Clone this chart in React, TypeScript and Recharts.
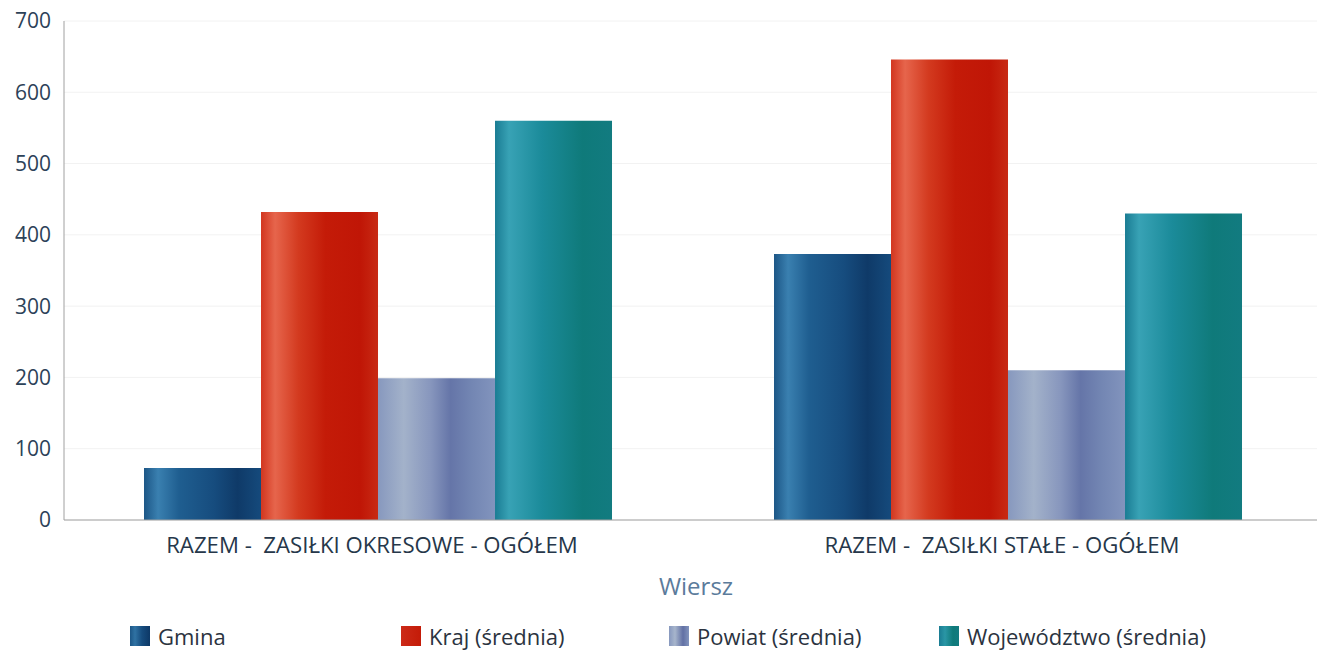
import React from 'react';
import { BarChart, Bar, XAxis, YAxis, CartesianGrid, Legend } from 'recharts';

const categories = ['RAZEM -  ZASIŁKI OKRESOWE - OGÓŁEM', 'RAZEM -  ZASIŁKI STAŁE - OGÓŁEM'];
const gmina = [73, 373];
const kraj = [432, 646];
const powiat = [199, 210];
const wojewodztwo = [560, 430];
const yTicks = [0, 100, 200, 300, 400, 500, 600, 700];

const seriesNames = ['Gmina', 'Kraj (średnia)', 'Powiat (średnia)', 'Województwo (średnia)'];

const data = categories.map((c, i) => ({
  name: c,
  gmina: gmina[i],
  kraj: kraj[i],
  powiat: powiat[i],
  woj: wojewodztwo[i],
}));

const gradients: Record<string, [number, string][]> = {
  gGmina: [[0, '#1c5686'], [0.12, '#3a80b0'], [0.3, '#1f5e90'], [0.6, '#164c7e'], [0.8, '#0f3a68'], [1, '#154a7c']],
  gKraj: [[0, '#d2361f'], [0.12, '#e6654c'], [0.32, '#d33a1f'], [0.55, '#c41b08'], [0.85, '#c01606'], [1, '#c82a14']],
  gPowiat: [[0, '#8798be'], [0.22, '#a3b2ca'], [0.45, '#8796bd'], [0.62, '#6575a8'], [0.8, '#7386b3'], [1, '#8294bd']],
  gWoj: [[0, '#1a7c93'], [0.12, '#38a2b5'], [0.4, '#1b8b9a'], [0.75, '#0f7a7a'], [1, '#127b80']],
};

const legendColors = [
  'linear-gradient(90deg, #1c5686, #2f72a3 25%, #164c7e 60%, #0d3866)',
  'linear-gradient(90deg, #cc2a18, #c41b08)',
  'linear-gradient(90deg, #8798be, #a7b5cc 30%, #6170a4 70%, #8294bd)',
  'linear-gradient(90deg, #1a7c93, #2a96a5 30%, #0f7a7a 70%, #127b80)',
];
const legendLeft = [130, 401, 669, 939];

const FONT = '"Open Sans", "Noto Sans", sans-serif';

const CustomLegend = () => (
  <div style={{ position: 'relative', width: 1317, height: 30, fontFamily: FONT }}>
    {seriesNames.map((n, i) => (
      <div key={n} style={{ position: 'absolute', left: legendLeft[i], top: 0, height: 30, display: 'flex', alignItems: 'center' }}>
        <div style={{ width: 20, height: 20, background: legendColors[i], marginRight: 8 }} />
        <span style={{ fontSize: 22, color: '#2b3340', whiteSpace: 'nowrap' }}>{n}</span>
      </div>
    ))}
  </div>
);

const CatTick = (props: any) => {
  const { x, payload } = props;
  return (
    <text x={x - 7} y={553} textAnchor="middle" fontSize={22.2} fill="#26374a" fontFamily={FONT} style={{ whiteSpace: 'pre' }}>
      {payload.value}
    </text>
  );
};

export default function App() {
  return (
    <div style={{ position: 'absolute', left: 0, top: 0, width: 1317, height: 651, overflow: 'hidden', background: '#fff' }}>
      <BarChart
        width={1330}
        height={651}
        data={data}
        margin={{ top: 21, right: 6, left: 0, bottom: 51 }}
        barCategoryGap="12.7%"
        barGap={0}
      >
        <defs>
          {Object.entries(gradients).map(([id, stops]) => (
            <linearGradient key={id} id={id} x1="0" y1="0" x2="1" y2="0">
              {stops.map(([o, c], k) => (
                <stop key={k} offset={o} stopColor={c} />
              ))}
            </linearGradient>
          ))}
        </defs>
        <CartesianGrid vertical={false} stroke="#f2f2f2" />
        <XAxis
          dataKey="name"
          stroke="#a0a0a0"
          tickLine={false}
          tick={<CatTick />}
          height={80}
          interval={0}
          label={{ value: 'Wiersz', position: 'insideTop', offset: 58, fill: '#5b7b9b', fontSize: 24, fontFamily: FONT, dx: 2 }}
        />
        <YAxis
          domain={[0, 700]}
          ticks={yTicks}
          width={64}
          stroke="#a0a0a0"
          tickLine={false}
          tickSize={0}
          tickMargin={13}
          tick={{ fontSize: 21, fill: '#2c4258', fontFamily: FONT }}
        />
        <Legend
          layout="horizontal"
          verticalAlign="middle"
          align="center"
          content={<CustomLegend />}
          wrapperStyle={{ top: 621, left: 0, width: 1317 }}
        />
        <Bar dataKey="gmina" name={seriesNames[0]} fill="url(#gGmina)" isAnimationActive={false} />
        <Bar dataKey="kraj" name={seriesNames[1]} fill="url(#gKraj)" isAnimationActive={false} />
        <Bar dataKey="powiat" name={seriesNames[2]} fill="url(#gPowiat)" isAnimationActive={false} />
        <Bar dataKey="woj" name={seriesNames[3]} fill="url(#gWoj)" isAnimationActive={false} />
      </BarChart>
    </div>
  );
}
